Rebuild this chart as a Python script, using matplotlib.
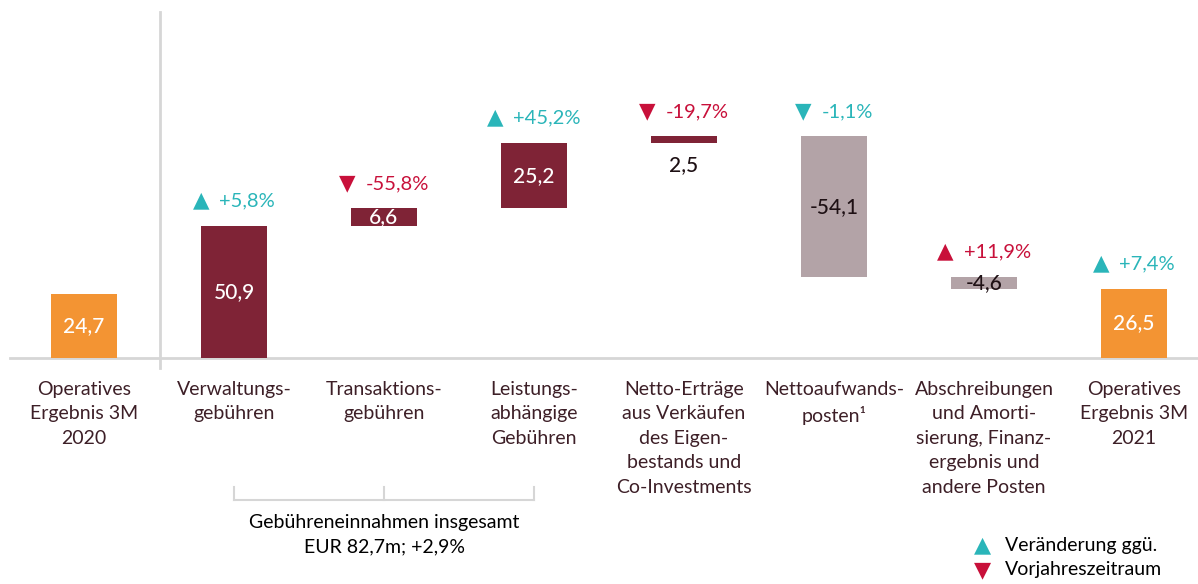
import matplotlib.pyplot as plt
from matplotlib.lines import Line2D
from matplotlib.offsetbox import TextArea, HPacker, AnnotationBbox

# Daten (EUR m)
categories = [
    "Operatives\nErgebnis 3M\n2020",
    "Verwaltungs-\ngebühren",
    "Transaktions-\ngebühren",
    "Leistungs-\nabhängige\nGebühren",
    "Netto-Erträge\naus Verkäufen\ndes Eigen-\nbestands und\nCo-Investments",
    "Nettoaufwands-\nposten¹",
    "Abschreibungen\nund Amorti-\nsierung, Finanz-\nergebnis und\nandere Posten",
    "Operatives\nErgebnis 3M\n2021",
]
values = [24.7, 50.9, 6.6, 25.2, 2.5, -54.1, -4.6, 26.5]
kinds = ["total", "fee", "fee", "fee", "fee", "cost", "cost", "total"]
changes = [None, "+5,8%", "-55,8%", "+45,2%", "-19,7%", "-1,1%", "+11,9%", "+7,4%"]
favourable = [None, True, False, True, False, True, False, True]
fee_note = "Gebühreneinnahmen insgesamt\nEUR 82,7m; +2,9%"
legend_lines = ["Veränderung ggü.", "Vorjahreszeitraum"]

colors = {"total": "#F39433", "fee": "#7F2336", "cost": "#B3A3A7"}
TEAL = "#2AB5B9"
RED = "#C8103A"
DARK = "#3D1F27"
GRID = "#D6D6D6"
FONT = ["Lato", "DejaVu Sans"]

plt.rcParams["font.family"] = FONT

fig = plt.figure(figsize=(11.98, 5.84), dpi=100)
ax = fig.add_axes([0, 0, 1, 1])
ax.axis("off")

# Pixel-Geometrie der Vorlage: Balkenmitte 84 + 150*i, Nulllinie bei y=358, 2,6 px je Einheit
def px(x):
    return (x - 84) / 150

def py(y):
    return (358 - y) / 2.6

ax.set_xlim(px(0), px(1198))
ax.set_ylim(py(584), py(0))

# Wasserfall-Basis berechnen
bottoms = []
running = 0.0
for v, k in zip(values, kinds):
    if k == "total":
        bottoms.append(0.0)
    else:
        bottoms.append(running if v >= 0 else running + v)
        running += v

width = 0.44
for i, (v, k, b) in enumerate(zip(values, kinds, bottoms)):
    ax.bar(i, abs(v), bottom=b, width=width, color=colors[k], zorder=2)
    top = b + abs(v)
    label = f"{v:.1f}".replace(".", ",")
    txt_color = "white" if k in ("total", "fee") else "#1E1014"
    if abs(v) < 3 and k == "fee":
        ax.text(i, b - 4.5, label, ha="center", va="top", fontsize=15,
                color="#1E1014", fontweight="medium")
    else:
        ax.text(i, b + abs(v) / 2, label, ha="center", va="center", fontsize=15,
                color=txt_color, fontweight="medium", zorder=3)
    if changes[i] is not None:
        sym = "▲" if changes[i].startswith("+") else "▼"
        col = TEAL if favourable[i] else RED
        box = HPacker(children=[
            TextArea(sym, textprops=dict(size=15.5, color=col, family="DejaVu Sans")),
            TextArea(changes[i], textprops=dict(size=14.5, color=col)),
        ], align="baseline", pad=0, sep=7)
        ab = AnnotationBbox(box, (i, top + 6.0), frameon=False,
                            box_alignment=(0.5, 0), pad=0)
        ax.add_artist(ab)

# Nulllinie und Trennlinie
ax.add_line(Line2D([px(10), px(1198)], [0, 0], color=GRID, lw=2, zorder=1))
ax.add_line(Line2D([px(160), px(160)], [py(12), py(368)], color=GRID, lw=2, zorder=1))

# Kategorien
for i, cat in enumerate(categories):
    ax.text(i, py(381), cat, ha="center", va="top", fontsize=14, color=DARK,
            linespacing=1.53)

# Klammer für Gebühreneinnahmen
yb, yt = py(500), py(487)
ax.add_line(Line2D([1, 3], [yb, yb], color=GRID, lw=1.5))
for i in (1, 2, 3):
    ax.add_line(Line2D([i, i], [yb, yt], color=GRID, lw=1.5))
ax.text(2, py(514), fee_note, ha="center", va="top", fontsize=14, color="black",
        linespacing=1.5)

# Legende
ax.text(px(983), py(545), "▲", ha="center", va="center", fontsize=16, color=TEAL,
        family="DejaVu Sans")
ax.text(px(983), py(570), "▼", ha="center", va="center", fontsize=16, color=RED,
        family="DejaVu Sans")
ax.text(px(1005), py(545), legend_lines[0], ha="left", va="center", fontsize=14, color="black")
ax.text(px(1005), py(570), legend_lines[1], ha="left", va="center", fontsize=14, color="black")

fig.savefig("out.png", dpi=100)
